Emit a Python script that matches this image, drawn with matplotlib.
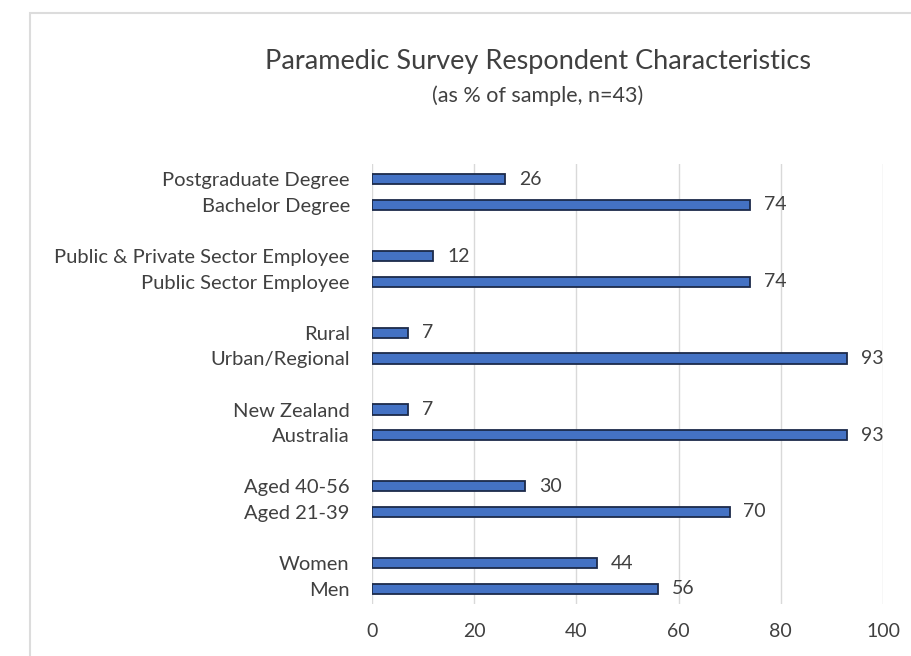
import matplotlib.pyplot as plt
from matplotlib.patches import Rectangle

plt.rcParams['font.family'] = ['Lato', 'DejaVu Sans']

# categories top to bottom, in pairs
labels = ['Postgraduate Degree', 'Bachelor Degree',
          'Public & Private Sector Employee', 'Public Sector Employee',
          'Rural', 'Urban/Regional',
          'New Zealand', 'Australia',
          'Aged 40-56', 'Aged 21-39',
          'Women', 'Men']
values = [26, 74, 12, 74, 7, 93, 7, 93, 30, 70, 44, 56]
xticks = [0, 20, 40, 60, 80, 100]

text_col = '#404040'

# slot positions: pairs separated by one empty slot, counted from the bottom
n = len(labels)
ypos = []
for i in range(n):
    k = n - 1 - i          # index from bottom
    ypos.append(k + k // 2)

fig = plt.figure(figsize=(9.12, 6.56), dpi=100)
fig.patches.append(Rectangle((30 / 912, -0.1), 1.2, 1.1 - 13 / 656,
                             transform=fig.transFigure, fill=False,
                             edgecolor='#dcdcdc', linewidth=1.5))

ax = fig.add_axes([372 / 912, 52 / 656, 511 / 912, 440 / 656])
ax.barh(ypos, values, height=0.4, color='#4472C4', edgecolor='#1c2a4a',
        linewidth=1.3, zorder=3)
for y, v in zip(ypos, values):
    ax.text(v + 2.7, y, str(v), va='center', ha='left', fontsize=14,
            color=text_col)

ax.set_xlim(0, 100)
ax.set_ylim(-0.6, 16.6)
ax.set_xticks(xticks)
ax.set_yticks(ypos)
ax.set_yticklabels(labels)
ax.tick_params(axis='both', length=0, labelsize=14.5, labelcolor=text_col)
ax.tick_params(axis='x', pad=14, labelsize=14)
ax.tick_params(axis='y', pad=16)
ax.grid(axis='x', color='#d9d9d9', linewidth=1, zorder=0)
for s in ax.spines.values():
    s.set_visible(False)

fig.text(538 / 912, 1 - 62 / 656, 'Paramedic Survey Respondent Characteristics',
         ha='center', va='center', fontsize=19.5, color=text_col)
fig.text(538 / 912, 1 - 96 / 656, '(as % of sample, n=43)',
         ha='center', va='center', fontsize=15.5, color=text_col)

fig.savefig('out.png', dpi=100)
